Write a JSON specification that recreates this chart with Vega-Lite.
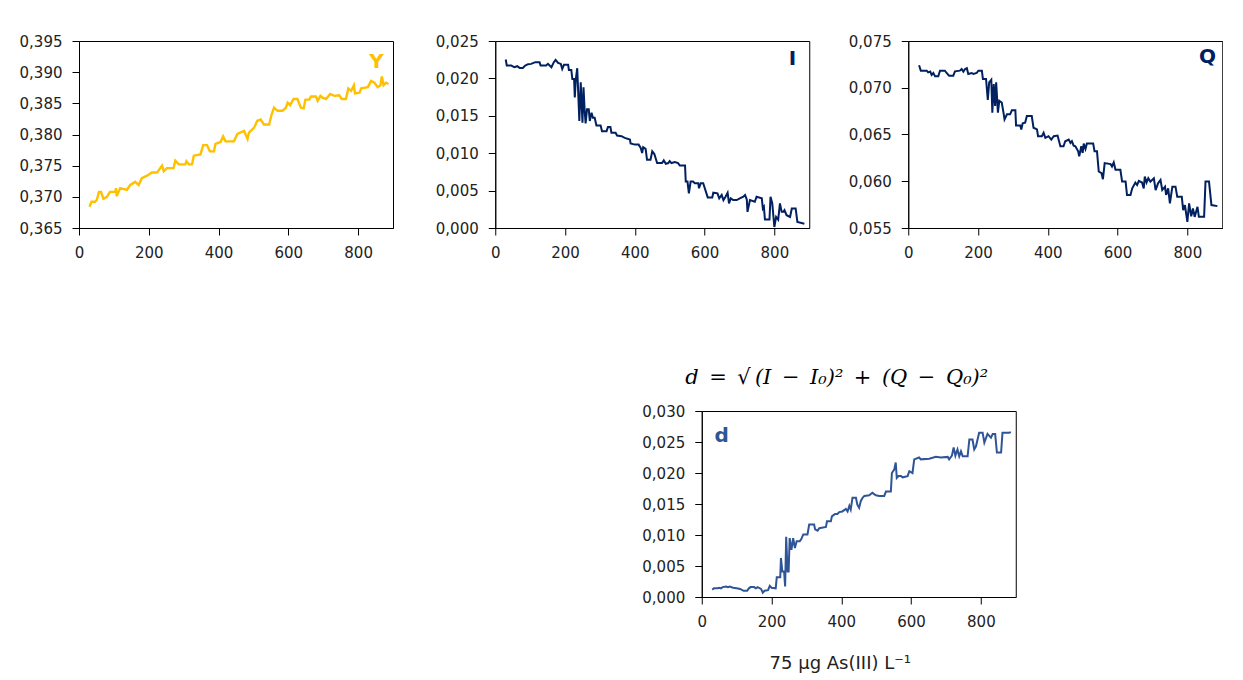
{
"$schema": "https://vega.github.io/schema/vega-lite/v6.json",
"background": "white",
"padding": {"left": 18, "top": 33, "right": 0, "bottom": 0},
"config": {
 "view": {"stroke": "#000", "strokeWidth": 1},
 "axis": {"grid": false, "domainColor": "#000", "tickColor": "#000", "tickSize": 7, "tickCount": 12, "labelPadding": 10, "labelFont": "DejaVu Sans", "labelFontSize": 15, "labelColor": "#222", "labelOverlap": false, "labelFlush": false, "titleFont": "DejaVu Sans", "titleFontSize": 18, "titleFontWeight": "normal", "titleColor": "#222"}
},
"datasets": {
 "Y": [{"x":30,"v":0.3684},{"x":36,"v":0.3692},{"x":46,"v":0.3692},{"x":51,"v":0.3695},{"x":57,"v":0.3708},{"x":63,"v":0.3708},{"x":70,"v":0.3697},{"x":80,"v":0.37},{"x":89,"v":0.3708},{"x":104,"v":0.3708},{"x":106,"v":0.3714},{"x":108,"v":0.3701},{"x":118,"v":0.3714},{"x":137,"v":0.3711},{"x":147,"v":0.3719},{"x":161,"v":0.3724},{"x":171,"v":0.3719},{"x":180,"v":0.373},{"x":195,"v":0.3734},{"x":209,"v":0.3739},{"x":224,"v":0.3739},{"x":238,"v":0.375},{"x":243,"v":0.3741},{"x":252,"v":0.3746},{"x":271,"v":0.3746},{"x":276,"v":0.3758},{"x":286,"v":0.3752},{"x":305,"v":0.3752},{"x":308,"v":0.3757},{"x":315,"v":0.3752},{"x":324,"v":0.3752},{"x":329,"v":0.3766},{"x":348,"v":0.3768},{"x":356,"v":0.3783},{"x":367,"v":0.3783},{"x":375,"v":0.3773},{"x":387,"v":0.3773},{"x":391,"v":0.3785},{"x":406,"v":0.3788},{"x":413,"v":0.3797},{"x":420,"v":0.3789},{"x":444,"v":0.3789},{"x":454,"v":0.3801},{"x":473,"v":0.3806},{"x":483,"v":0.3793},{"x":487,"v":0.3803},{"x":502,"v":0.3811},{"x":511,"v":0.3822},{"x":521,"v":0.3824},{"x":530,"v":0.3816},{"x":545,"v":0.3816},{"x":552,"v":0.3832},{"x":559,"v":0.3843},{"x":569,"v":0.3838},{"x":583,"v":0.3838},{"x":593,"v":0.3843},{"x":598,"v":0.3851},{"x":605,"v":0.3847},{"x":615,"v":0.3857},{"x":626,"v":0.3857},{"x":636,"v":0.3843},{"x":644,"v":0.3842},{"x":649,"v":0.3856},{"x":660,"v":0.3856},{"x":665,"v":0.3861},{"x":679,"v":0.3861},{"x":684,"v":0.3854},{"x":692,"v":0.3862},{"x":698,"v":0.3859},{"x":708,"v":0.3857},{"x":720,"v":0.3865},{"x":732,"v":0.3862},{"x":746,"v":0.3863},{"x":753,"v":0.3857},{"x":765,"v":0.3857},{"x":772,"v":0.3874},{"x":780,"v":0.387},{"x":788,"v":0.3879},{"x":791,"v":0.3866},{"x":804,"v":0.3867},{"x":809,"v":0.3874},{"x":828,"v":0.3876},{"x":837,"v":0.3886},{"x":847,"v":0.3883},{"x":856,"v":0.3876},{"x":864,"v":0.3879},{"x":868,"v":0.3893},{"x":873,"v":0.3879},{"x":880,"v":0.3883},{"x":887,"v":0.3881}],
 "I": [{"x":30,"v":0.02253},{"x":33,"v":0.02172},{"x":46,"v":0.02172},{"x":55,"v":0.02149},{"x":63,"v":0.02163},{"x":70,"v":0.0214},{"x":79,"v":0.0214},{"x":86,"v":0.02172},{"x":94,"v":0.0219},{"x":103,"v":0.02194},{"x":115,"v":0.02217},{"x":127,"v":0.02217},{"x":130,"v":0.02172},{"x":146,"v":0.02172},{"x":151,"v":0.02194},{"x":161,"v":0.02149},{"x":168,"v":0.02217},{"x":173,"v":0.02248},{"x":180,"v":0.02208},{"x":188,"v":0.02194},{"x":192,"v":0.02127},{"x":197,"v":0.02181},{"x":209,"v":0.02181},{"x":211,"v":0.02113},{"x":218,"v":0.02113},{"x":221,"v":0.01992},{"x":226,"v":0.01992},{"x":228,"v":0.01745},{"x":231,"v":0.01992},{"x":235,"v":0.02136},{"x":241,"v":0.0143},{"x":245,"v":0.01947},{"x":250,"v":0.01407},{"x":253,"v":0.0188},{"x":256,"v":0.01587},{"x":259,"v":0.01398},{"x":263,"v":0.01587},{"x":268,"v":0.01587},{"x":271,"v":0.0143},{"x":276,"v":0.01542},{"x":280,"v":0.01475},{"x":285,"v":0.01475},{"x":290,"v":0.01371},{"x":302,"v":0.01371},{"x":306,"v":0.01295},{"x":319,"v":0.01295},{"x":323,"v":0.01349},{"x":330,"v":0.01349},{"x":333,"v":0.01273},{"x":345,"v":0.01273},{"x":349,"v":0.01236},{"x":362,"v":0.01227},{"x":371,"v":0.01205},{"x":386,"v":0.01183},{"x":388,"v":0.01129},{"x":400,"v":0.01115},{"x":411,"v":0.01115},{"x":417,"v":0.0107},{"x":421,"v":0.01003},{"x":424,"v":0.01079},{"x":431,"v":0.01057},{"x":435,"v":0.00913},{"x":445,"v":0.00913},{"x":450,"v":0.01025},{"x":456,"v":0.00989},{"x":464,"v":0.00868},{"x":478,"v":0.00868},{"x":483,"v":0.00904},{"x":489,"v":0.00859},{"x":496,"v":0.00868},{"x":500,"v":0.00895},{"x":505,"v":0.00868},{"x":515,"v":0.00881},{"x":524,"v":0.00868},{"x":529,"v":0.00836},{"x":544,"v":0.00836},{"x":546,"v":0.00621},{"x":551,"v":0.00621},{"x":555,"v":0.00463},{"x":560,"v":0.00621},{"x":567,"v":0.00621},{"x":572,"v":0.00598},{"x":582,"v":0.00598},{"x":584,"v":0.00531},{"x":589,"v":0.00598},{"x":596,"v":0.00598},{"x":609,"v":0.00409},{"x":622,"v":0.00409},{"x":625,"v":0.00472},{"x":637,"v":0.00463},{"x":642,"v":0.00396},{"x":649,"v":0.00441},{"x":654,"v":0.00373},{"x":660,"v":0.00418},{"x":666,"v":0.00472},{"x":670,"v":0.00328},{"x":675,"v":0.00396},{"x":682,"v":0.00373},{"x":692,"v":0.00373},{"x":701,"v":0.00396},{"x":711,"v":0.00418},{"x":716,"v":0.00441},{"x":721,"v":0.00382},{"x":723,"v":0.00216},{"x":730,"v":0.00373},{"x":744,"v":0.00351},{"x":749,"v":0.00418},{"x":764,"v":0.00396},{"x":767,"v":0.00261},{"x":770,"v":0.00283},{"x":773,"v":0.00112},{"x":786,"v":0.00112},{"x":789,"v":0.00418},{"x":794,"v":0.00328},{"x":800,"v":0.00013},{"x":805,"v":0.00148},{"x":811,"v":0.00112},{"x":816,"v":0.00328},{"x":821,"v":0.00216},{"x":826,"v":0.00216},{"x":829,"v":0.00238},{"x":835,"v":0.00171},{"x":845,"v":0.00148},{"x":850,"v":0.00261},{"x":861,"v":0.00261},{"x":866,"v":0.00081},{"x":878,"v":0.00067},{"x":886,"v":0.00058}],
 "Q": [{"x":31,"v":0.0724},{"x":36,"v":0.07183},{"x":53,"v":0.07183},{"x":57,"v":0.07165},{"x":63,"v":0.07173},{"x":67,"v":0.07137},{"x":72,"v":0.07158},{"x":77,"v":0.07122},{"x":86,"v":0.07122},{"x":91,"v":0.07183},{"x":105,"v":0.07183},{"x":110,"v":0.07158},{"x":117,"v":0.07129},{"x":129,"v":0.07129},{"x":134,"v":0.07176},{"x":148,"v":0.07183},{"x":153,"v":0.07201},{"x":158,"v":0.07173},{"x":163,"v":0.07201},{"x":168,"v":0.07209},{"x":172,"v":0.07147},{"x":182,"v":0.07158},{"x":187,"v":0.07147},{"x":196,"v":0.07158},{"x":201,"v":0.07183},{"x":211,"v":0.07183},{"x":214,"v":0.07094},{"x":223,"v":0.07094},{"x":228,"v":0.06871},{"x":232,"v":0.07058},{"x":238,"v":0.07086},{"x":241,"v":0.06734},{"x":245,"v":0.0704},{"x":249,"v":0.06806},{"x":252,"v":0.07058},{"x":257,"v":0.06734},{"x":261,"v":0.0686},{"x":268,"v":0.06842},{"x":273,"v":0.06734},{"x":276,"v":0.06662},{"x":283,"v":0.06716},{"x":292,"v":0.06716},{"x":297,"v":0.06759},{"x":307,"v":0.06759},{"x":309,"v":0.06597},{"x":321,"v":0.06597},{"x":324,"v":0.06554},{"x":328,"v":0.06619},{"x":335,"v":0.06626},{"x":340,"v":0.06698},{"x":354,"v":0.06698},{"x":359,"v":0.06572},{"x":369,"v":0.06554},{"x":372,"v":0.06482},{"x":383,"v":0.06482},{"x":388,"v":0.06518},{"x":393,"v":0.06464},{"x":402,"v":0.06482},{"x":410,"v":0.06446},{"x":417,"v":0.06482},{"x":428,"v":0.06489},{"x":436,"v":0.06374},{"x":445,"v":0.06374},{"x":450,"v":0.06428},{"x":460,"v":0.06446},{"x":465,"v":0.0641},{"x":469,"v":0.06428},{"x":474,"v":0.06381},{"x":479,"v":0.06374},{"x":487,"v":0.0632},{"x":490,"v":0.06266},{"x":496,"v":0.06374},{"x":500,"v":0.06302},{"x":503,"v":0.06403},{"x":508,"v":0.06345},{"x":512,"v":0.06403},{"x":530,"v":0.06403},{"x":534,"v":0.0632},{"x":541,"v":0.0632},{"x":546,"v":0.06104},{"x":554,"v":0.06086},{"x":558,"v":0.06022},{"x":563,"v":0.06194},{"x":580,"v":0.06183},{"x":584,"v":0.06158},{"x":589,"v":0.06201},{"x":594,"v":0.06122},{"x":608,"v":0.06122},{"x":613,"v":0.05996},{"x":623,"v":0.05996},{"x":627,"v":0.05853},{"x":637,"v":0.05853},{"x":642,"v":0.05924},{"x":651,"v":0.05986},{"x":656,"v":0.0596},{"x":661,"v":0.06004},{"x":670,"v":0.05986},{"x":675,"v":0.05924},{"x":678,"v":0.0605},{"x":683,"v":0.05986},{"x":688,"v":0.06032},{"x":694,"v":0.05996},{"x":704,"v":0.06032},{"x":709,"v":0.05906},{"x":716,"v":0.05978},{"x":723,"v":0.06014},{"x":728,"v":0.05906},{"x":736,"v":0.05942},{"x":739,"v":0.05853},{"x":745,"v":0.05924},{"x":750,"v":0.05763},{"x":757,"v":0.05942},{"x":766,"v":0.05942},{"x":771,"v":0.05835},{"x":784,"v":0.05835},{"x":788,"v":0.05691},{"x":793,"v":0.05745},{"x":800,"v":0.05565},{"x":805,"v":0.05763},{"x":811,"v":0.05626},{"x":816,"v":0.05709},{"x":821,"v":0.05619},{"x":829,"v":0.05727},{"x":833,"v":0.05619},{"x":848,"v":0.05619},{"x":852,"v":0.05996},{"x":862,"v":0.05996},{"x":869,"v":0.05745},{"x":886,"v":0.05734}],
 "D": [{"x":30,"v":0.0012},{"x":35,"v":0.0014},{"x":45,"v":0.0014},{"x":50,"v":0.0015},{"x":55,"v":0.0014},{"x":60,"v":0.0016},{"x":70,"v":0.0017},{"x":75,"v":0.0016},{"x":80,"v":0.0017},{"x":90,"v":0.0015},{"x":100,"v":0.0014},{"x":110,"v":0.0013},{"x":120,"v":0.001},{"x":130,"v":0.001},{"x":135,"v":0.0014},{"x":140,"v":0.0016},{"x":150,"v":0.0016},{"x":155,"v":0.0014},{"x":160,"v":0.0016},{"x":170,"v":0.0013},{"x":175,"v":0.0007},{"x":180,"v":0.001},{"x":190,"v":0.0011},{"x":195,"v":0.0018},{"x":200,"v":0.0015},{"x":212,"v":0.0014},{"x":215,"v":0.0032},{"x":225,"v":0.0032},{"x":227,"v":0.0063},{"x":231,"v":0.0041},{"x":236,"v":0.0041},{"x":239,"v":0.0017},{"x":242,"v":0.0097},{"x":246,"v":0.0041},{"x":249,"v":0.0041},{"x":252,"v":0.0095},{"x":257,"v":0.0076},{"x":262,"v":0.0095},{"x":267,"v":0.0079},{"x":272,"v":0.009},{"x":281,"v":0.009},{"x":285,"v":0.0093},{"x":291,"v":0.0101},{"x":303,"v":0.0101},{"x":308,"v":0.0117},{"x":322,"v":0.0117},{"x":325,"v":0.0109},{"x":332,"v":0.0107},{"x":337,"v":0.0111},{"x":356,"v":0.0113},{"x":359,"v":0.0122},{"x":370,"v":0.0122},{"x":373,"v":0.013},{"x":382,"v":0.0134},{"x":389,"v":0.0134},{"x":394,"v":0.0137},{"x":403,"v":0.0138},{"x":413,"v":0.0142},{"x":418,"v":0.0138},{"x":423,"v":0.0147},{"x":427,"v":0.0141},{"x":432,"v":0.016},{"x":442,"v":0.016},{"x":446,"v":0.0149},{"x":451,"v":0.0144},{"x":456,"v":0.0155},{"x":461,"v":0.016},{"x":466,"v":0.0163},{"x":480,"v":0.0164},{"x":489,"v":0.0168},{"x":499,"v":0.0164},{"x":509,"v":0.0163},{"x":523,"v":0.0163},{"x":528,"v":0.017},{"x":542,"v":0.017},{"x":545,"v":0.02},{"x":552,"v":0.0206},{"x":556,"v":0.0217},{"x":559,"v":0.0192},{"x":564,"v":0.0195},{"x":571,"v":0.0195},{"x":576,"v":0.0193},{"x":590,"v":0.0195},{"x":595,"v":0.0203},{"x":604,"v":0.02},{"x":609,"v":0.0222},{"x":623,"v":0.0225},{"x":628,"v":0.0222},{"x":652,"v":0.0223},{"x":671,"v":0.0226},{"x":685,"v":0.0225},{"x":705,"v":0.0226},{"x":709,"v":0.0222},{"x":717,"v":0.0228},{"x":722,"v":0.0241},{"x":727,"v":0.0228},{"x":733,"v":0.0238},{"x":738,"v":0.0227},{"x":743,"v":0.0235},{"x":748,"v":0.0227},{"x":762,"v":0.0227},{"x":767,"v":0.0254},{"x":776,"v":0.0254},{"x":781,"v":0.0238},{"x":786,"v":0.0243},{"x":795,"v":0.0265},{"x":805,"v":0.0265},{"x":810,"v":0.0249},{"x":819,"v":0.0263},{"x":829,"v":0.0257},{"x":834,"v":0.0263},{"x":841,"v":0.0263},{"x":846,"v":0.0233},{"x":858,"v":0.0233},{"x":862,"v":0.0265},{"x":881,"v":0.0265},{"x":886,"v":0.0266}]
},
"spacing": -7,
"hconcat": [
 {
  "width": 314, "height": 187,
  "layer": [
   {"data": {"name": "Y"}, "mark": {"type": "line", "color": "#FFC000", "strokeWidth": 2.4},
    "encoding": {
     "x": {"field": "x", "type": "quantitative", "scale": {"domain": [0, 900], "nice": false}, "axis": {"values": [0, 200, 400, 600, 800], "title": null}},
     "y": {"field": "v", "type": "quantitative", "scale": {"domain": [0.365, 0.395], "nice": false, "zero": false}, "axis": {"values": [0.365, 0.37, 0.375, 0.38, 0.385, 0.39, 0.395], "tickCount": 12, "labelExpr": "replace(format(datum.value, '.3f'), '.', ',')", "title": null}}
    }},
   {"data": {"values": [{"label": "Y"}]}, "mark": {"type": "text", "fontSize": 20, "fontWeight": "bold", "font": "DejaVu Sans", "color": "#FFC000", "align": "center", "baseline": "middle"},
    "encoding": {"x": {"datum": 853, "scale": {"domain": [0, 900], "nice": false}}, "y": {"datum": 0.3917, "scale": {"domain": [0.365, 0.395], "nice": false, "zero": false}}, "text": {"field": "label"}}}
  ]
 },
 {
  "spacing": 105,
  "center": true,
  "vconcat": [
   {
    "spacing": 37,
    "hconcat": [
     {
      "width": 314, "height": 187,
      "layer": [
       {"data": {"name": "I"}, "mark": {"type": "line", "color": "#002060", "strokeWidth": 2},
        "encoding": {
         "x": {"field": "x", "type": "quantitative", "scale": {"domain": [0, 900], "nice": false}, "axis": {"values": [0, 200, 400, 600, 800], "title": null}},
         "y": {"field": "v", "type": "quantitative", "scale": {"domain": [0, 0.025], "nice": false}, "axis": {"values": [0, 0.005, 0.01, 0.015, 0.02, 0.025], "tickCount": 12, "labelExpr": "replace(format(datum.value, '.3f'), '.', ',')", "title": null, "minExtent": 107}}
        }},
       {"data": {"values": [{"label": "I"}]}, "mark": {"type": "text", "fontSize": 20, "fontWeight": "bold", "font": "DejaVu Sans", "color": "#002060", "align": "center", "baseline": "middle"},
        "encoding": {"x": {"datum": 852, "scale": {"domain": [0, 900], "nice": false}}, "y": {"datum": 0.0226, "scale": {"domain": [0, 0.025], "nice": false}}, "text": {"field": "label"}}}
      ]
     },
     {
      "width": 314, "height": 187,
      "layer": [
       {"data": {"name": "Q"}, "mark": {"type": "line", "color": "#002060", "strokeWidth": 2},
        "encoding": {
         "x": {"field": "x", "type": "quantitative", "scale": {"domain": [0, 900], "nice": false}, "axis": {"values": [0, 200, 400, 600, 800], "title": null}},
         "y": {"field": "v", "type": "quantitative", "scale": {"domain": [0.055, 0.075], "nice": false, "zero": false}, "axis": {"values": [0.055, 0.06, 0.065, 0.07, 0.075], "tickCount": 12, "labelExpr": "replace(format(datum.value, '.3f'), '.', ',')", "title": null}}
        }},
       {"data": {"values": [{"label": "Q"}]}, "mark": {"type": "text", "fontSize": 20, "fontWeight": "bold", "font": "DejaVu Sans", "color": "#002060", "align": "center", "baseline": "middle"},
        "encoding": {"x": {"datum": 858, "scale": {"domain": [0, 900], "nice": false}}, "y": {"datum": 0.07327, "scale": {"domain": [0.055, 0.075], "nice": false, "zero": false}}, "text": {"field": "label"}}}
      ]
     }
    ]
   },
   {
    "width": 314, "height": 186,
    "title": {"text": "d\u2002=\u2002√\u2009(I\u2002−\u2002I₀)²\u2002+\u2002(Q\u2002−\u2002Q₀)²", "font": "DejaVu Serif", "fontStyle": "italic", "fontWeight": "normal", "fontSize": 21, "color": "#000", "anchor": "middle", "dx": -22, "offset": -1, "baseline": "alphabetic"},
    "layer": [
     {"data": {"name": "D"}, "mark": {"type": "line", "color": "#2F5597", "strokeWidth": 2},
      "encoding": {
       "x": {"field": "x", "type": "quantitative", "scale": {"domain": [0, 900], "nice": false}, "axis": {"values": [0, 200, 400, 600, 800], "title": "75 µg As(III) L⁻¹", "titleX": 138, "titleY": 71, "titleBaseline": "alphabetic"}},
       "y": {"field": "v", "type": "quantitative", "scale": {"domain": [0, 0.03], "nice": false}, "axis": {"values": [0, 0.005, 0.01, 0.015, 0.02, 0.025, 0.03], "tickCount": 12, "labelExpr": "replace(format(datum.value, '.3f'), '.', ',')", "title": null}}
      }},
     {"data": {"values": [{"label": "d"}]}, "mark": {"type": "text", "fontSize": 20, "fontWeight": "bold", "font": "DejaVu Sans", "color": "#2F5597", "align": "center", "baseline": "middle"},
      "encoding": {"x": {"datum": 57, "scale": {"domain": [0, 900], "nice": false}}, "y": {"datum": 0.026, "scale": {"domain": [0, 0.03], "nice": false}}, "text": {"field": "label"}}}
    ]
   }
  ]
 }
]
}
